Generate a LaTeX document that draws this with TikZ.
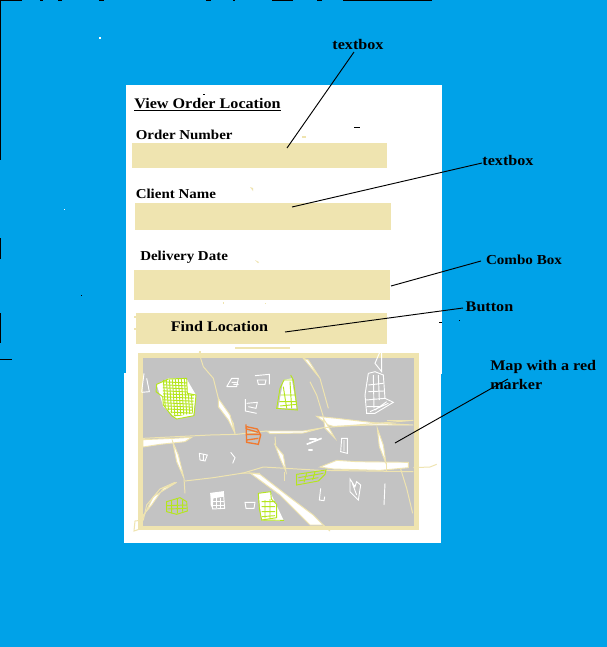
\documentclass[tikz,border=0pt]{standalone}
\usepackage{fontspec}
\setmainfont{Liberation Serif}
\newfontfamily\widefont[FakeStretch=1.1]{Liberation Serif}
\definecolor{sky}{HTML}{00A2E8}
\definecolor{tan}{HTML}{EFE4B0}
\definecolor{mapgray}{HTML}{C3C3C3}
\definecolor{lime}{HTML}{B5E61D}
\definecolor{pinorange}{HTML}{F07A30}
\tikzset{
  boxfill/.style={fill=tan,draw=none},
  uilabel/.style={font=\widefont\bfseries\fontsize{10.2}{12}\selectfont,text=black,inner sep=0pt,anchor=base west},
  uibig/.style={uilabel,font=\widefont\bfseries\fontsize{11}{12}\selectfont},
  note/.style={font=\widefont\bfseries\fontsize{11}{14.25}\selectfont,text=black,inner sep=0pt},
  leader/.style={draw=black,line width=0.7pt},
  road/.style={draw=tan,line width=0.75pt},
  thick road/.style={fill=white,draw=tan,line width=0.7pt},
  sketch/.style={draw=white,line width=0.7pt},
  scribble/.style={draw=lime,line width=0.7pt},
  edge mark/.style={draw=black,line width=0.75pt},
  pin/.style={draw=pinorange,line width=1pt},
}
\begin{document}
\begin{tikzpicture}[x=0.75pt,y=-0.75pt]
\useasboundingbox (0,0) rectangle (607,647);
\fill[sky] (0,0) rectangle (607,647);
% panel
\fill[white] (126,85) rectangle (442,374);
\fill[white] (124,373) rectangle (441,543);
% edge marks
\foreach \a/\b in {0/22,40/43,58/62,99/104,206/211,233/235,272/293,317/322,343/432}
  \draw[edge mark] (\a,0.5) -- (\b,0.5);
\draw[edge mark] (0.5,0) -- (0.5,160);
\draw[edge mark] (0.5,238) -- (0.5,259);
\draw[edge mark] (0.5,313) -- (0.5,343);
\draw[edge mark] (0,359) -- (12,359);
\draw[edge mark] (81,295) -- (82,295);
\draw[edge mark] (354,127) -- (360,127);
\draw[edge mark] (439,322) -- (442,322);
\draw[edge mark] (459,320) -- (460,320);
\draw[edge mark] (203,94.5) -- (205,94.5);
\fill[white] (99,37) rectangle (101,39);
\fill[white] (64,209) rectangle (65,210);
% tan specks
\fill[tan] (302,136) rectangle (306,138);
\fill[tan] (250,187) -- (253,188) -- (253,191) -- cycle;
\fill[tan] (255,260) -- (259,262) -- (258,263) -- cycle;
\fill[tan] (223,302) rectangle (224,304);
\fill[tan] (265,303) rectangle (266,304);
\fill[tan] (134,316) rectangle (136,318);
\fill[tan] (134,328) rectangle (136,330);
\fill[tan] (199,351) rectangle (201,354);
% title and form
\node[uibig] (title) at (134,108) {\underline{View Order Location}};
\node[uilabel] (l1) at (135.5,139) {Order Number};
\fill[boxfill] (132,143) rectangle (387,168);
\node[uilabel] (l2) at (135.5,198) {Client Name};
\fill[boxfill] (135,203) rectangle (391,230);
\node[uilabel] (l3) at (140,260) {Delivery Date};
\fill[boxfill] (134,270) rectangle (390,300);
\node[boxfill,minimum width=251*0.75pt,minimum height=31*0.75pt,anchor=north west,inner sep=0pt] (btn) at (136,313) {};
\node[uibig,anchor=base] (btnt) at (219.5,331.5) {Find Location};
\fill[tan] (235,347) rectangle (290,349);
% map
\fill[tan] (138,353) rectangle (419,530);
\fill[mapgray] (143,358) rectangle (414,526);
\begin{scope}[shift={(120,345)},x=0.25pt,y=-0.25pt]
  % thick roads
  \path[thick road] (69,284) -- (160,280) -- (215,277) -- (195,290) -- (120,298) -- (69,306) -- cycle;
  \path[thick road] (590,214) -- (650,220) -- (760,233) -- (880,240) -- (760,240) -- (640,244) -- (625,240) -- cycle;
  \path[thick road] (600,366) -- (650,346) -- (710,350) -- (865,352) -- (865,368) -- (780,376) -- (640,372) -- cycle;
  \path[thick road] (390,384) -- (420,388) -- (500,450) -- (580,510) -- (610,540) -- (570,540) -- (480,450) -- cycle;
  \path[thick road] (68,520) -- (100,455) -- (170,412) -- (130,430) -- (95,480) -- (70,510) -- cycle;
  \path[thick road] (440,258) -- (550,258) -- (610,248) -- (550,264) -- (450,266) -- cycle;
  \path[thick road] (610,220) -- (625,245) -- (645,280) -- (615,250) -- cycle;
  \path[thick road] (295,160) -- (330,210) -- (345,265) -- (325,225) -- (295,185) -- cycle;
  \path[thick road] (465,300) -- (490,330) -- (498,380) -- (480,340) -- cycle;
  \path[thick road] (772,250) -- (790,300) -- (798,355) -- (778,305) -- cycle;
  \path[thick road] (158,290) -- (175,330) -- (192,400) -- (170,350) -- cycle;
  \path[thick road] (550,40) -- (565,45) -- (600,100) -- (575,70) -- cycle;
  % thin roads
  \draw[road] (242,40) -- (250,65) -- (280,100) -- (295,160);
  \draw[road] (69,280) -- (270,270) -- (350,268) -- (440,258);
  \draw[road] (345,268) -- (340,235) -- (335,225);
  \draw[road] (570,110) -- (590,150) -- (610,215);
  \draw[road] (600,100) -- (625,190);
  \draw[road] (610,248) -- (760,236) -- (880,226);
  \draw[road] (800,226) -- (868,226);
  \draw[road] (195,408) -- (280,398) -- (370,384) -- (430,366) -- (600,376) -- (880,380);
  \draw[road] (365,384) -- (420,385);
  \draw[road] (465,275) -- (467,300);
  \draw[road] (494,380) -- (494,408);
  \draw[road] (798,355) -- (798,380);
  \draw[road] (842,372) -- (860,430) -- (878,505);
  \draw[road] (880,368) -- (930,366) -- (950,358);
  \draw[road] (192,400) -- (195,445);
  \draw[road] (165,412) -- (120,432) -- (80,480) -- (70,525) -- (45,528) -- (42,558) -- (60,552);
  \draw[road] (238,22) -- (242,40);
  \draw[road] (610,540) -- (630,558);
  % white sketches
  \draw[sketch] (785,8) -- (765,55) -- (785,80) -- (785,8);
  \draw[sketch] (745,85) -- (735,150) -- (740,205) -- (765,205) -- (820,172) -- (795,160) -- (790,90) -- (765,80) -- cycle;
  \draw[sketch] (760,90) -- (762,190) (775,90) -- (778,165) (745,120) -- (790,115) (745,140) -- (792,138) (738,165) -- (795,160) (750,200) -- (805,175) (765,195) -- (800,170) (740,185) -- (780,185);
  \draw[sketch] (72,85) -- (65,140) (80,100) -- (88,140) -- (65,142);
  \draw[sketch] (320,125) -- (350,125) -- (355,100) -- (335,100) -- (320,125) (335,112) -- (350,112) (340,118) -- (356,118);
  \draw[sketch] (405,92) -- (448,88) -- (448,118) (412,105) -- (438,105) -- (435,118) -- (415,118) -- cycle;
  \draw[sketch] (376,162) -- (376,198) -- (410,205) (380,175) -- (412,172) -- (408,190) -- (385,185);
  \draw[sketch,line width=1.2pt] (560,298) -- (605,280) (565,315) -- (578,315) (568,282) -- (590,282);
  \draw[sketch] (665,280) -- (662,320) -- (682,325) -- (682,280) -- cycle (672,285) -- (672,318);
  \draw[sketch] (238,325) -- (262,330) -- (255,348) -- (240,345) -- cycle (250,328) -- (250,345);
  \draw[sketch] (332,322) -- (345,338) -- (338,355);
  \draw[sketch] (690,402) -- (690,440) -- (715,465) -- (722,420) -- (710,410) -- (705,425) -- cycle (697,415) -- (710,450);
  \draw[sketch] (795,415) -- (792,480);
  \draw[sketch] (602,430) -- (598,465) -- (612,467) -- (614,455);
  \fill[white] (272,445) -- (310,440) -- (312,455) -- (280,460) -- (278,492) -- (272,480) -- cycle;
  \draw[sketch] (272,445) -- (310,440) -- (314,490) -- (278,492) -- cycle;
  \draw[sketch] (290,458) -- (290,490) (300,458) -- (300,490) (280,470) -- (312,470) (280,482) -- (312,482);
  \draw[sketch] (375,472) -- (405,472) -- (402,490) -- (378,490) -- cycle;
  % green blobs
  \fill[white] (110,118) -- (145,100) -- (200,102) -- (228,150) -- (220,212) -- (170,222) -- (130,185) -- cycle;
  \draw[scribble] (110,118) -- (145,102) -- (200,100) -- (202,145) -- (228,150) -- (222,212) -- (170,222) -- (155,212) -- (130,180) -- (128,155) -- (108,140) -- cycle;
  \begin{scope}
    \clip (128,105) -- (200,100) -- (202,145) -- (222,150) -- (218,205) -- (165,215) -- (130,180) -- cycle;
    \foreach \i in {0,9,...,99} {
      \draw[scribble] (120,{110+\i}) -- (230,{115+\i});
      \draw[scribble] ({130+\i},100) -- ({138+\i},220);
    }
  \end{scope}
  \fill[white] (490,105) -- (515,100) -- (530,190) -- (475,190) -- cycle;
  \draw[scribble] (512,90) -- (520,105) -- (532,195) -- (470,190) -- (480,130) -- (492,105) -- (520,105);
  \draw[scribble] (490,125) -- (500,190) (510,110) -- (515,190) (478,170) -- (530,170) (482,150) -- (525,150) (480,183) -- (530,178);
  \draw[scribble] (530,388) -- (618,375) -- (615,388) -- (595,408) -- (530,420) -- cycle;
  \draw[scribble] (535,398) -- (610,385) (535,408) -- (595,398) (560,385) -- (552,412) (585,380) -- (578,405);
  \fill[white] (415,445) -- (450,440) -- (492,528) -- (425,526) -- cycle;
  \draw[scribble] (415,445) -- (452,440) -- (454,462) -- (470,478) -- (470,518) -- (425,525) -- (418,490) -- cycle;
  \draw[scribble] (492,526) -- (425,525);
  \draw[scribble] (425,470) -- (465,470) (425,485) -- (465,485) (425,500) -- (465,500) (425,515) -- (465,512) (435,465) -- (435,520) (450,462) -- (450,520);
  \draw[scribble] (140,470) -- (180,458) -- (200,470) -- (202,498) -- (170,508) -- (140,500) -- cycle;
  \draw[scribble] (140,482) -- (200,480) (142,492) -- (200,490) (155,465) -- (155,505) (172,460) -- (172,505) (188,465) -- (188,500);
  % marker
  \draw[pin] (378,238) -- (380,292) -- (415,298) -- (422,270) -- (412,252) -- (380,245);
  \draw[pin] (380,268) -- (420,268) (380,285) -- (415,280) (380,252) -- (415,262);
\end{scope}
% notes and leaders
\node[note] (n1) at (358,44) {textbox};
\coordinate (e1) at (287,148);
\node[note] (n2) at (508,160) {textbox};
\coordinate (e2) at (292,207);
\node[note,font=\widefont\bfseries\fontsize{10.3}{12}\selectfont] (n3) at (524,260) {Combo Box};
\coordinate (e3) at (391,286);
\node[note] (n4) at (489.5,307) {Button};
\coordinate (e4) at (285,332);
\node[note,align=left,anchor=north west] (n5) at (490,360) {Map with a red\\marker};
\coordinate (e5) at (395,443);
\coordinate (s1) at (354,52);
\coordinate (s2) at (482,163);
\coordinate (s3) at (481,261);
\coordinate (s4) at (463,308);
\coordinate (s5) at (508,379);
\draw[leader] (s1) -- (e1);
\draw[leader] (s2) -- (e2);
\draw[leader] (s3) -- (e3);
\draw[leader] (s4) -- (e4);
\draw[leader] (s5) -- (e5);
\end{tikzpicture}
\end{document}
